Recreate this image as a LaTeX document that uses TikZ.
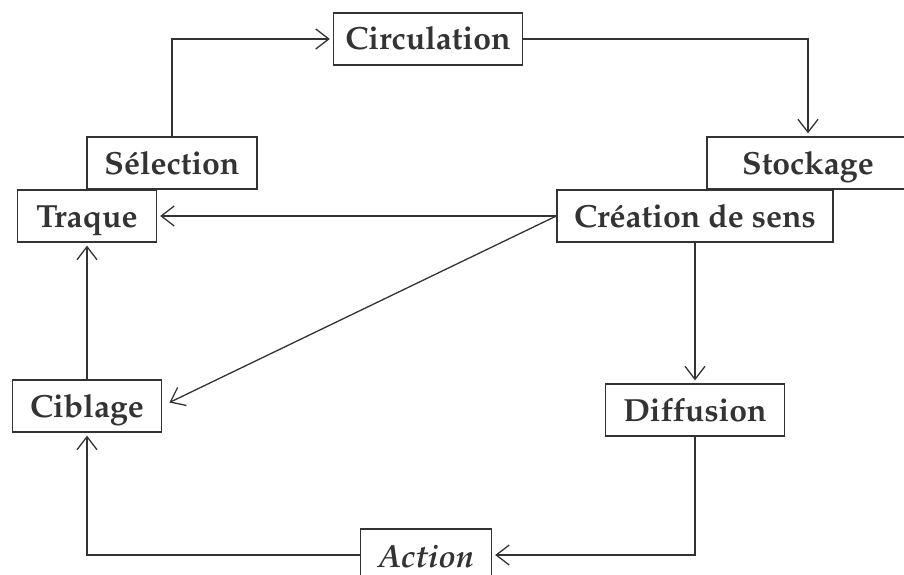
\documentclass[tikz,border=0pt]{standalone}
\usepackage[T1]{fontenc}
\usepackage{mathpazo}
\usetikzlibrary{arrows.meta}
\definecolor{trait}{HTML}{333333}

\begin{document}
\begin{tikzpicture}[x=1pt,y=-1pt,
    boite/.style={draw=trait,line width=1.3pt,minimum height=52pt,inner sep=0pt,
        text height=23pt,text depth=1pt,text=trait,
        font=\fontsize{32}{38}\selectfont\bfseries},
    fleche/.style={draw=trait,line width=1.3pt,shorten >=3pt,
        -{Straight Barb[length=13pt,width=20pt]}}]
    \useasboundingbox (0,0) rectangle (904,575);
    % les boites
    \foreach \nom/\x/\y/\w/\txt in {circ/428/39/189/Circulation,
        sel/172/163/170/S\'election, traq/87/216/139/Traque,
        stock/808/163/202/Stockage, crea/695/216/276/Cr\'eation de sens,
        cib/87/406/149/Ciblage, diff/695/410/179/Diffusion}{
        \node[boite,minimum width=\w pt] (\nom) at (\x,\y) {\txt};
    }
    \node[boite,minimum width=131pt,text height=25pt,text depth=0pt,
        font=\fontsize{32}{38}\selectfont\bfseries\itshape] (act) at (426,555) {Action};
    % les fleches
    \draw[fleche] (sel) |- (circ);
    \draw[fleche] (circ) -| (stock);
    \draw[fleche] (crea) -- (traq);
    \draw[fleche,shorten >=8pt] (crea.west) -- (cib.east);
    \draw[fleche] (crea) -- (diff);
    \draw[fleche] (diff) |- (act);
    \draw[fleche] (act) -| (cib);
    \draw[fleche] (cib) -- (traq);
\end{tikzpicture}
\end{document}
